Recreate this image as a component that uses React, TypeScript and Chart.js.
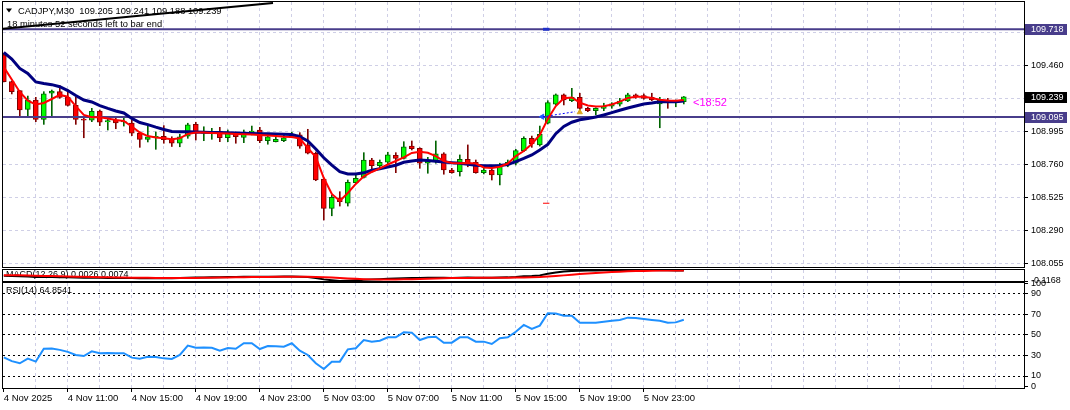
import React, { useEffect, useRef } from 'react';
import { Chart, registerables } from 'chart.js';

Chart.register(...registerables);

// ---------------- data ----------------
const symbolTitle = 'CADJPY,M30';
const headerValues = ['109.205', '109.241', '109.188', '109.239'];
const timerText = '18 minutes 52 seconds left to bar end';
const countdownText = '<18:52';
const macdTitle = 'MACD(12,26,9) 0.0026 0.0074';
const rsiTitle = 'RSI(14) 64.8541';

const timeLabels = [
  '4 Nov 2025', '4 Nov 11:00', '4 Nov 15:00', '4 Nov 19:00', '4 Nov 23:00',
  '5 Nov 03:00', '5 Nov 07:00', '5 Nov 11:00', '5 Nov 15:00', '5 Nov 19:00', '5 Nov 23:00',
];
const priceTicks = [108.055, 108.29, 108.525, 108.76, 108.995, 109.23, 109.46, 109.695];
const rsiTicks = [0, 10, 30, 50, 70, 90, 100];
const rsiLevels = [10, 30, 50, 70, 90];
const macdTicks = [-0.1168, 0.0646];
const levelLines = [109.718, 109.095];
const lastPrice = 109.239;
const trendBars = [-0.5, 33.65];
const trendPrices = [109.72, 109.905];
const tradeBars = [67.4, 71.4];
const tradePrices = [109.097, 109.133];
const dashBars = [67.4, 68.2];
const redDashPrice = 108.483;
const blueDashPrice = 109.718;

const openP = [
  109.536, 109.346, 109.282, 109.150, 109.216, 109.079, 109.264, 109.275, 109.235, 109.178,
  109.081, 109.072, 109.138, 109.060, 109.074, 109.060, 109.053, 108.980, 108.937, 108.951,
  108.958, 108.939, 108.909, 108.960, 109.044, 108.980, 108.984, 108.991, 108.948, 108.984,
  108.951, 108.984, 109.003, 108.927, 108.920, 108.927, 108.951, 108.968, 108.897, 108.838,
  108.655, 108.447, 108.522, 108.483, 108.629, 108.667, 108.790, 108.750, 108.774, 108.823,
  108.802, 108.889, 108.873, 108.767, 108.785, 108.833, 108.719, 108.707, 108.795, 108.774,
  108.700, 108.719, 108.684, 108.755, 108.767, 108.856, 108.944, 108.897, 109.051, 109.186,
  109.252, 109.211, 109.235, 109.157, 109.140, 109.157, 109.173, 109.186, 109.209, 109.252,
  109.247, 109.235, 109.188, 109.216, 109.204, 109.205,
];
const highP = [
  109.550, 109.351, 109.283, 109.244, 109.235, 109.275, 109.287, 109.318, 109.287, 109.235,
  109.088, 109.157, 109.145, 109.093, 109.086, 109.095, 109.074, 108.989, 109.039, 108.989,
  109.034, 108.955, 108.973, 109.051, 109.058, 109.026, 109.015, 109.022, 109.003, 108.989,
  109.003, 109.031, 109.022, 108.968, 108.973, 108.968, 108.987, 108.984, 109.008, 108.847,
  108.662, 108.542, 108.565, 108.648, 108.684, 108.842, 108.802, 108.790, 108.845, 108.842,
  108.920, 108.925, 108.877, 108.809, 108.925, 108.842, 108.731, 108.826, 108.897, 108.790,
  108.731, 108.731, 108.767, 108.790, 108.866, 108.955, 108.960, 109.031, 109.211, 109.259,
  109.259, 109.299, 109.264, 109.164, 109.161, 109.193, 109.197, 109.228, 109.264, 109.259,
  109.259, 109.264, 109.235, 109.228, 109.216, 109.241,
];
const lowP = [
  109.344, 109.259, 109.102, 109.102, 109.062, 109.043, 109.102, 109.228, 109.173, 109.043,
  108.948, 109.062, 109.034, 109.003, 109.012, 109.031, 108.963, 108.880, 108.918, 108.866,
  108.909, 108.886, 108.884, 108.944, 108.932, 108.927, 108.937, 108.920, 108.920, 108.909,
  108.913, 108.968, 108.913, 108.902, 108.918, 108.920, 108.948, 108.873, 108.833, 108.643,
  108.364, 108.394, 108.463, 108.463, 108.625, 108.662, 108.707, 108.731, 108.755, 108.700,
  108.797, 108.861, 108.731, 108.696, 108.767, 108.689, 108.696, 108.676, 108.742, 108.696,
  108.691, 108.648, 108.613, 108.742, 108.755, 108.849, 108.880, 108.889, 109.046, 109.181,
  109.181, 109.204, 109.145, 109.133, 109.110, 109.140, 109.157, 109.173, 109.204, 109.228,
  109.221, 109.211, 109.019, 109.157, 109.168, 109.188,
];
const closeP = [
  109.346, 109.275, 109.145, 109.216, 109.079, 109.259, 109.280, 109.235, 109.178, 109.079,
  109.072, 109.136, 109.058, 109.069, 109.053, 109.063, 108.980, 108.937, 108.955, 108.958,
  108.934, 108.909, 108.955, 109.039, 108.980, 108.991, 108.991, 108.948, 108.980, 108.955,
  108.987, 108.996, 108.927, 108.955, 108.937, 108.948, 108.968, 108.889, 108.838, 108.648,
  108.447, 108.525, 108.494, 108.632, 108.660, 108.790, 108.750, 108.774, 108.826, 108.802,
  108.884, 108.870, 108.767, 108.790, 108.833, 108.719, 108.700, 108.795, 108.771, 108.700,
  108.719, 108.684, 108.755, 108.774, 108.856, 108.944, 108.904, 108.973, 109.197, 109.252,
  109.216, 109.235, 109.157, 109.140, 109.157, 109.173, 109.188, 109.209, 109.252, 109.239,
  109.228, 109.216, 109.216, 109.202, 109.211, 109.239,
];
const fastMA = [
  109.450, 109.362, 109.273, 109.212, 109.184, 109.195, 109.223, 109.252, 109.239, 109.173,
  109.110, 109.093, 109.093, 109.085, 109.074, 109.067, 109.028, 108.985, 108.960, 108.950,
  108.944, 108.938, 108.944, 108.975, 108.985, 108.985, 108.982, 108.980, 108.978, 108.975,
  108.973, 108.971, 108.968, 108.964, 108.960, 108.955, 108.953, 108.943, 108.875, 108.811,
  108.662, 108.549, 108.499, 108.556, 108.620, 108.674, 108.705, 108.730, 108.758, 108.783,
  108.808, 108.840, 108.849, 108.841, 108.818, 108.783, 108.769, 108.767, 108.769, 108.765,
  108.737, 108.733, 108.742, 108.765, 108.818, 108.854, 108.904, 108.968, 109.081, 109.173,
  109.228, 109.234, 109.197, 109.177, 109.170, 109.171, 109.184, 109.204, 109.230, 109.239,
  109.239, 109.230, 109.218, 109.212, 109.211, 109.216,
];
const slowMA = [
  109.553, 109.507, 109.440, 109.404, 109.344, 109.333, 109.325, 109.310, 109.283, 109.248,
  109.216, 109.202, 109.176, 109.156, 109.138, 109.124, 109.085, 109.056, 109.041, 109.023,
  109.007, 108.992, 108.991, 108.991, 108.989, 108.987, 108.986, 108.985, 108.983, 108.982,
  108.980, 108.979, 108.977, 108.976, 108.975, 108.973, 108.971, 108.955, 108.925, 108.868,
  108.806, 108.754, 108.707, 108.691, 108.691, 108.699, 108.717, 108.728, 108.740, 108.753,
  108.774, 108.783, 108.790, 108.786, 108.781, 108.776, 108.771, 108.767, 108.760, 108.752,
  108.750, 108.750, 108.751, 108.758, 108.779, 108.801, 108.826, 108.861, 108.900, 108.977,
  109.028, 109.058, 109.076, 109.085, 109.095, 109.110, 109.126, 109.143, 109.159, 109.173,
  109.188, 109.195, 109.204, 109.204, 109.204, 109.209,
];
const rsi14 = [
  28.2, 24.5, 22.4, 26.9, 24.0, 36.6, 36.8, 35.5, 33.5, 30.5,
  29.5, 34.1, 32.1, 32.4, 32.1, 32.2, 27.9, 26.8, 28.8, 28.5,
  27.2, 26.6, 30.5, 39.6, 37.6, 37.8, 37.6, 34.7, 37.3, 36.5,
  41.9, 41.9, 36.3, 39.3, 38.9, 38.6, 41.9, 34.7, 30.5, 22.5,
  16.8, 24.0, 24.0, 36.0, 37.0, 45.1, 43.5, 44.4, 47.7, 47.7,
  52.6, 52.3, 45.1, 47.7, 48.3, 42.5, 42.5, 47.7, 47.7, 43.5,
  43.5, 41.2, 46.8, 47.7, 53.2, 59.8, 55.9, 59.1, 71.2, 70.9,
  68.8, 68.8, 62.0, 62.0, 62.0, 62.9, 63.8, 64.6, 66.9, 66.5,
  65.6, 64.7, 63.9, 62.0, 62.3, 64.85,
];
const macdMain = [
  -0.030, -0.034, -0.040, -0.044, -0.050, -0.050, -0.052, -0.054, -0.057, -0.060,
  -0.063, -0.063, -0.065, -0.066, -0.066, -0.066, -0.068, -0.070, -0.070, -0.070,
  -0.070, -0.070, -0.068, -0.062, -0.060, -0.058, -0.056, -0.055, -0.052, -0.050,
  -0.047, -0.045, -0.046, -0.045, -0.045, -0.044, -0.043, -0.046, -0.052, -0.066,
  -0.090, -0.104, -0.117, -0.112, -0.106, -0.098, -0.092, -0.086, -0.080, -0.076,
  -0.070, -0.066, -0.066, -0.064, -0.062, -0.064, -0.066, -0.062, -0.060, -0.062,
  -0.062, -0.064, -0.060, -0.057, -0.050, -0.040, -0.034, -0.024, 0.002, 0.025,
  0.040, 0.050, 0.054, 0.056, 0.058, 0.060, 0.062, 0.063, 0.064, 0.065,
  0.064, 0.063, 0.062, 0.060, 0.058, 0.057,
];
const macdSignal = [
  -0.020, -0.022, -0.024, -0.027, -0.030, -0.033, -0.036, -0.039, -0.042, -0.045,
  -0.048, -0.051, -0.054, -0.056, -0.058, -0.060, -0.062, -0.064, -0.065, -0.066,
  -0.067, -0.068, -0.068, -0.067, -0.066, -0.064, -0.062, -0.060, -0.058, -0.056,
  -0.054, -0.052, -0.050, -0.049, -0.048, -0.047, -0.046, -0.046, -0.047, -0.049,
  -0.054, -0.060, -0.068, -0.075, -0.081, -0.086, -0.090, -0.092, -0.093, -0.092,
  -0.090, -0.087, -0.083, -0.079, -0.075, -0.072, -0.069, -0.067, -0.066, -0.065,
  -0.064, -0.064, -0.063, -0.062, -0.061, -0.058, -0.054, -0.050, -0.043, -0.034,
  -0.024, -0.013, -0.003, 0.007, 0.016, 0.024, 0.031, 0.037, 0.042, 0.047,
  0.050, 0.053, 0.055, 0.056, 0.057, 0.057,
];

// ---------------- styling / layout ----------------
const FONT = '"Liberation Sans", Arial, sans-serif';
const GRID = '#CFCFE6';
const W = 1070;
const AXIS_W = 46;
const X_MIN = -0.1;
const X_MAX = 127.525;
const P_MIN = 108.0303;
const P_MAX = 109.9118;
const R_MIN = -1.7;
const R_MAX = 100.7;
const barIdx = closeP.map((_, i) => i);
const gridBars: number[] = [];
for (let b = 0; b <= 124; b += 4) gridBars.push(b);
const isBull = (i: number) => closeP[i] >= openP[i];
const TRANSPARENT = 'rgba(0,0,0,0)';

const framePlugin = {
  id: 'frame',
  afterDraw(chart: any) {
    const { ctx, chartArea: a } = chart;
    ctx.save();
    ctx.strokeStyle = '#000';
    ctx.lineWidth = 1;
    ctx.strokeRect(a.left - 0.5, a.top - 0.5, a.right - a.left + 1, a.bottom - a.top + 1);
    ctx.restore();
  },
};

const noPadY = (s: any) => {
  s.width = AXIS_W;
  s.paddingTop = 0;
  s.paddingBottom = 0;
};

const baseX = (extra: any = {}) => ({
  type: 'linear',
  min: X_MIN,
  max: X_MAX,
  offset: false,
  afterBuildTicks: (s: any) => {
    s.ticks = gridBars.map((v) => ({ value: v }));
  },
  afterFit: (s: any) => {
    s.height = 0;
    s.paddingLeft = 0;
    s.paddingRight = 0;
  },
  ticks: { display: false },
  grid: {
    offset: false,
    drawTicks: false,
    color: (c: any) => (c.tick && c.tick.value === 0 ? TRANSPARENT : GRID),
  },
  border: { display: false, dash: [3, 3] },
  ...extra,
});

const baseOptions = (padding: any) => ({
  responsive: false,
  animation: false,
  devicePixelRatio: 1,
  events: [],
  layout: { padding, autoPadding: false },
  plugins: { legend: { display: false }, tooltip: { enabled: false } },
});

function mainConfig(): any {
  const headerPlugin = {
    id: 'header',
    beforeDatasetsDraw(chart: any) {
      const { ctx } = chart;
      ctx.save();
      ctx.fillStyle = '#000';
      ctx.beginPath();
      ctx.moveTo(6, 8.5);
      ctx.lineTo(12, 8.5);
      ctx.lineTo(9, 12.5);
      ctx.closePath();
      ctx.fill();
      ctx.font = `9.3px ${FONT}`;
      ctx.textBaseline = 'middle';
      ctx.textAlign = 'left';
      ctx.fillText(`${symbolTitle}  ${headerValues.join(' ')}`, 18, 11);
      ctx.fillText(timerText, 7, 24);
      ctx.restore();
    },
  };
  const labelsPlugin = {
    id: 'priceLabels',
    afterDraw(chart: any) {
      const { ctx } = chart;
      const ys = chart.scales.y;
      const xs = chart.scales.x;
      ctx.save();
      ctx.font = `9px ${FONT}`;
      ctx.textBaseline = 'middle';
      ctx.textAlign = 'left';
      const box = (v: number, bg: string) => {
        const y = Math.round(ys.getPixelForValue(v));
        ctx.fillStyle = bg;
        ctx.fillRect(1025, y - 5, 42, 11);
        ctx.fillStyle = '#fff';
        ctx.fillText(v.toFixed(3), 1031, y + 0.5);
      };
      levelLines.forEach((v) => box(v, '#483D8B'));
      box(lastPrice, '#000');
      ctx.fillStyle = '#FF00FF';
      ctx.font = `11px ${FONT}`;
      ctx.textBaseline = 'top';
      ctx.fillText(countdownText, xs.getPixelForValue(closeP.length + 0.15), ys.getPixelForValue(lastPrice) + 1);
      ctx.restore();
    },
  };
  const line = (data: any[], color: string, width: number, order: number, extra: any = {}) => ({
    type: 'line',
    data,
    borderColor: color,
    borderWidth: width,
    pointRadius: 0,
    tension: 0,
    order,
    ...extra,
  });
  return {
    type: 'bar',
    data: {
      datasets: [
        line(trendBars.map((x, i) => ({ x, y: trendPrices[i] })), '#000', 2, 0),
        line(fastMA.map((y, i) => ({ x: i, y })), '#FF0000', 2, 1),
        line(slowMA.map((y, i) => ({ x: i, y })), '#000080', 3, 2),
        line(tradeBars.map((x, i) => ({ x, y: tradePrices[i] })), '#0000FF', 1, 1, {
          borderDash: [2, 2],
        }),
        line(
          [{ x: tradeBars[0] - 0.1, y: tradePrices[0] }],
          '#1E5AFF', 1, 1,
          { showLine: false, pointRadius: 3, pointStyle: 'triangle', rotation: -90, pointBackgroundColor: '#1E5AFF' }
        ),
        line(
          [{ x: tradeBars[1] + 0.6, y: tradePrices[1] - 0.004 }],
          '#DAA520', 1, 1,
          { showLine: false, pointRadius: 3, pointStyle: 'triangle', pointBackgroundColor: '#DAA520' }
        ),
        line(dashBars.map((x) => ({ x, y: redDashPrice })), '#FF0000', 1, 1),
        ...levelLines.map((v) => line([{ x: X_MIN, y: v }, { x: X_MAX, y: v }], '#483D8B', 2, 3)),
        line(dashBars.map((x) => ({ x, y: blueDashPrice })), '#2030C8', 3, 2),
        {
          type: 'bar',
          data: barIdx.map((i) => ({ x: i, y: [openP[i], closeP[i]] })),
          backgroundColor: barIdx.map((i) => (isBull(i) ? '#00FF00' : '#FF0000')),
          borderColor: barIdx.map((i) => (isBull(i) ? '#006400' : '#800000')),
          borderWidth: 1,
          borderSkipped: false,
          barThickness: 5,
          minBarLength: 1,
          grouped: false,
          order: 4,
        },
        {
          type: 'bar',
          data: barIdx.map((i) => ({ x: i, y: [lowP[i], highP[i]] })),
          backgroundColor: barIdx.map((i) => (isBull(i) ? '#006400' : '#800000')),
          barThickness: 1,
          grouped: false,
          order: 5,
        },
      ],
    },
    options: {
      ...baseOptions({ top: 2, left: 3, right: 0, bottom: 3 }),
      scales: {
        x: baseX(),
        y: {
          position: 'right',
          min: P_MIN,
          max: P_MAX,
          afterBuildTicks: (s: any) => {
            s.ticks = priceTicks.map((v) => ({ value: v }));
          },
          afterFit: noPadY,
          ticks: {
            callback: (v: any) => Number(v).toFixed(3),
            color: '#000',
            font: { family: FONT, size: 9 },
            padding: 3,
          },
          grid: { color: GRID, tickColor: '#000', tickLength: 4, tickBorderDash: [] },
          border: { display: false, dash: [3, 3] },
        },
      },
    },
    plugins: [headerPlugin, framePlugin, labelsPlugin],
  };
}

function macdConfig(): any {
  const titlePlugin = {
    id: 'macdTitle',
    beforeDatasetsDraw(chart: any) {
      const { ctx, chartArea: a } = chart;
      ctx.save();
      ctx.beginPath();
      ctx.rect(a.left, a.top, a.right - a.left, a.bottom - a.top);
      ctx.clip();
      ctx.fillStyle = '#000';
      ctx.font = `9px ${FONT}`;
      ctx.textBaseline = 'middle';
      ctx.fillText(macdTitle, 6, a.top + 5);
      ctx.restore();
    },
  };
  return {
    type: 'line',
    data: {
      datasets: [
        {
          data: macdMain.map((y, i) => ({ x: i, y })),
          borderColor: '#000',
          borderWidth: 2,
          pointRadius: 0,
          order: 1,
        },
        {
          data: macdSignal.map((y, i) => ({ x: i, y })),
          borderColor: '#FF0000',
          borderWidth: 2,
          pointRadius: 0,
          order: 0,
        },
      ],
    },
    options: {
      ...baseOptions({ top: 8, left: 3, right: 0, bottom: 7 }),
      scales: {
        x: baseX(),
        y: {
          position: 'right',
          min: macdTicks[0],
          max: macdTicks[1],
          afterBuildTicks: (s: any) => {
            s.ticks = macdTicks.map((v) => ({ value: v }));
          },
          afterFit: noPadY,
          ticks: {
            callback: (v: any) => Number(v).toFixed(4),
            color: '#000',
            font: { family: FONT, size: 9 },
            padding: 3,
          },
          grid: { color: TRANSPARENT, tickColor: '#000', tickLength: 4, tickBorderDash: [] },
          border: { display: false },
        },
      },
    },
    plugins: [titlePlugin, framePlugin],
  };
}

function rsiConfig(): any {
  const titlePlugin = {
    id: 'rsiTitle',
    afterDatasetsDraw(chart: any) {
      const { ctx, chartArea: a } = chart;
      ctx.save();
      ctx.fillStyle = '#000';
      ctx.font = `9px ${FONT}`;
      ctx.textBaseline = 'middle';
      ctx.fillText(rsiTitle, 6, a.top + 8);
      ctx.restore();
    },
  };
  const labelAt = (v: number) => v % 8 === 0 && v / 8 < timeLabels.length;
  return {
    type: 'line',
    data: {
      datasets: [
        {
          data: rsi14.map((y, i) => ({ x: i, y })),
          borderColor: '#1E90FF',
          borderWidth: 2,
          pointRadius: 0,
          tension: 0,
        },
      ],
    },
    options: {
      ...baseOptions({ top: 7, left: 3, right: 0, bottom: 0 }),
      scales: {
        x: baseX({
          afterFit: (s: any) => {
            s.height = 22;
            s.paddingLeft = 0;
            s.paddingRight = 0;
          },
          ticks: {
            display: true,
            autoSkip: false,
            maxRotation: 0,
            minRotation: 0,
            align: 'start',
            padding: 1,
            color: '#000',
            font: { family: FONT, size: 9.5 },
            callback: (v: any) => (labelAt(v) ? timeLabels[v / 8] : ''),
          },
          grid: {
            offset: false,
            drawTicks: true,
            tickLength: 4,
            tickBorderDash: [],
            tickColor: (c: any) => (c.tick && labelAt(c.tick.value) ? '#000' : TRANSPARENT),
            color: (c: any) => (c.tick && c.tick.value === 0 ? TRANSPARENT : GRID),
          },
        }),
        y: {
          position: 'right',
          min: R_MIN,
          max: R_MAX,
          afterBuildTicks: (s: any) => {
            s.ticks = rsiTicks.map((v) => ({ value: v }));
          },
          afterFit: noPadY,
          ticks: {
            callback: (v: any) => String(v),
            color: '#000',
            font: { family: FONT, size: 9 },
            padding: 3,
          },
          grid: {
            color: (c: any) => (c.tick && rsiLevels.includes(c.tick.value) ? '#000' : TRANSPARENT),
            tickColor: '#000',
            tickLength: 4,
            tickBorderDash: [],
          },
          border: { display: false, dash: [2, 3] },
        },
      },
    },
    plugins: [titlePlugin, framePlugin],
  };
}

function Panel({ top, height, build }: { top: number; height: number; build: () => any }) {
  const ref = useRef<HTMLCanvasElement | null>(null);
  useEffect(() => {
    const chart = new Chart(ref.current as HTMLCanvasElement, build());
    return () => chart.destroy();
  }, []);
  return (
    <canvas
      ref={ref}
      width={W}
      height={height}
      style={{ position: 'absolute', left: 0, top, width: W, height, display: 'block' }}
    />
  );
}

export default function App() {
  return (
    <div
      style={{
        position: 'absolute',
        left: 0,
        top: 0,
        width: W,
        height: 410,
        background: '#fff',
        overflow: 'hidden',
      }}
    >
      <Panel top={0} height={270} build={mainConfig} />
      <Panel top={262} height={26} build={macdConfig} />
      <Panel top={276} height={134} build={rsiConfig} />
    </div>
  );
}
